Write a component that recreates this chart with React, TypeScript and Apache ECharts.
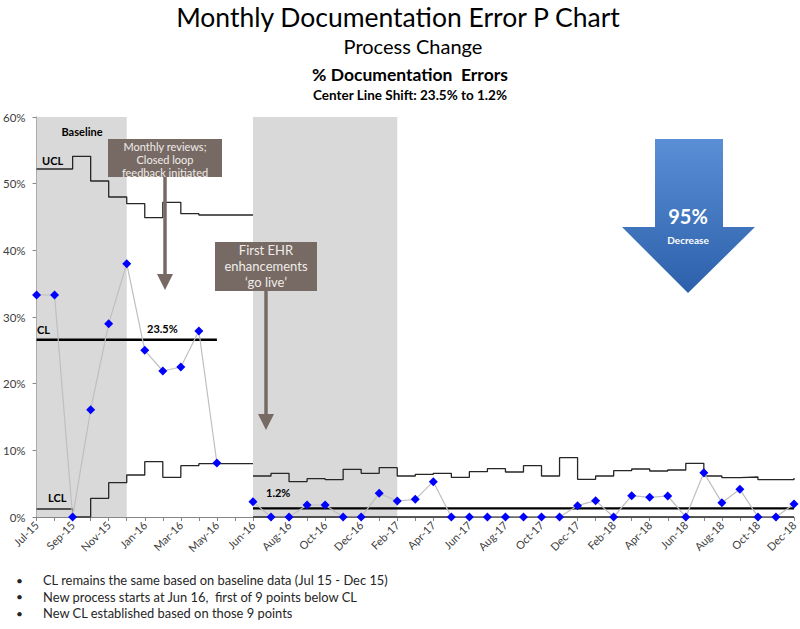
import React, { useEffect, useRef } from 'react';
import * as echarts from 'echarts';

const categories = [
  'Jul-15', 'Aug-15', 'Sep-15', 'Oct-15', 'Nov-15', 'Dec-15', 'Jan-16', 'Feb-16', 'Mar-16', 'Apr-16', 'May-16', '',
  'Jun-16', 'Jul-16', 'Aug-16', 'Sep-16', 'Oct-16', 'Nov-16', 'Dec-16',
  'Jan-17', 'Feb-17', 'Mar-17', 'Apr-17', 'May-17', 'Jun-17', 'Jul-17', 'Aug-17', 'Sep-17', 'Oct-17', 'Nov-17', 'Dec-17',
  'Jan-18', 'Feb-18', 'Mar-18', 'Apr-18', 'May-18', 'Jun-18', 'Jul-18', 'Aug-18', 'Sep-18', 'Oct-18', 'Nov-18', 'Dec-18',
];

const pctErrors = [
  33.3, 33.3, 0, 16.1, 29.0, 38.0, 25.0, 21.9, 22.5, 27.9, 8.1, null,
  2.3, 0, 0, 1.8, 1.8, 0, 0,
  3.55, 2.4, 2.65, 5.3, 0, 0, 0, 0, 0, 0, 0, 1.7,
  2.45, 0, 3.2, 2.95, 3.15, 0, 6.65, 2.15, 4.15, 0, 0, 1.95,
];

// Baseline limits (Jul-15 .. May-16, held to the gap)
const ucl1 = [52.2, 52.2, 54.1, 50.4, 48.0, 47.0, 44.9, 47.2, 45.5, 45.3, 45.3, 45.3];
const lcl1 = [1.2, 1.2, 0, 2.8, 5.15, 6.3, 8.3, 5.95, 7.7, 8.0, 8.0, 8.0];
const cl1Value = 26.6;

// New process limits (Jun-16 .. Dec-18)
const ucl2 = [
  6.15, 6.55, 5.3, 5.75, 5.6, 7.15, 6.55,
  7.4, 6.15, 6.4, 6.55, 5.95, 6.8, 7.25, 6.75, 7.7, 6.15, 8.9, 5.65,
  6.15, 6.95, 7.2, 6.9, 7.05, 8.05, 6.15, 5.9, 6.0, 5.6, 5.6, 5.85,
];
const lcl2Value = 0;
const cl2Value = 1.3;

const bullets = [
  'CL remains the same based on baseline data (Jul 15 - Dec 15)',
  'New process starts at Jun 16,  first of 9 points below CL',
  'New CL established based on those 9 points',
];

const FONT = 'Lato, "Open Sans", sans-serif';

export default function App() {
  const ref = useRef<HTMLDivElement>(null);

  useEffect(() => {
    if (!ref.current) return;
    const chart = echarts.init(ref.current, null, { renderer: 'svg' });

    const n = categories.length;
    const phase2Start = 12;
    const pad = (arr: (number | null)[], start: number) => {
      const out: (number | null)[] = new Array(n).fill(null);
      arr.forEach((v, i) => (out[start + i] = v));
      return out;
    };
    const ucl1Data = pad(ucl1, 0);
    const lcl1Data = pad(lcl1, 0);
    const cl1Data = pad(new Array(11).fill(cl1Value), 0);
    const ucl2Data = pad(ucl2, phase2Start);
    const lcl2Data = pad(new Array(ucl2.length).fill(lcl2Value), phase2Start);
    const cl2Data = pad(new Array(ucl2.length).fill(cl2Value), phase2Start);

    const stepStyle = { color: '#262626', width: 1.3 };
    const txt = (text: string, x: number, y: number, font: string, fill = '#000', align = 'left') => ({
      type: 'text',
      x,
      y,
      z: 100,
      style: { text, fill, font, textAlign: align, textVerticalAlign: 'middle' },
    });

    const arrowColor = '#776a64';
    const arrow = (x: number, y0: number, y1: number) => [
      { type: 'line', z: 90, shape: { x1: x, y1: y0, x2: x, y2: y1 - 6 }, style: { stroke: arrowColor, lineWidth: 3.5 } },
      {
        type: 'polygon',
        z: 90,
        shape: { points: [[x - 8, y1 - 16], [x - 1.5, y1 - 16], [x, y1 - 14], [x + 1.5, y1 - 16], [x + 8, y1 - 16], [x, y1]] },
        style: { fill: arrowColor },
      },
    ];

    const option: any = {
      animation: false,
      textStyle: { fontFamily: FONT },
      grid: { left: 35, right: 5, top: 117, bottom: 112, containLabel: false },
      xAxis: {
        type: 'category',
        data: categories,
        boundaryGap: false,
        axisLine: { lineStyle: { color: '#868686', width: 1 } },
        axisTick: { show: true, interval: 0, length: 4, lineStyle: { color: '#868686' } },
        axisLabel: { interval: 1, rotate: 45, fontSize: 11, color: '#404040', fontFamily: FONT, margin: 6 },
        splitLine: { show: false },
      },
      yAxis: {
        type: 'value',
        min: 0,
        max: 60,
        interval: 10,
        axisLine: { show: true, lineStyle: { color: '#868686' } },
        axisTick: { show: true, length: 4, lineStyle: { color: '#868686' } },
        axisLabel: { formatter: '{value}%', fontSize: 11.5, color: '#404040', fontFamily: FONT, margin: 11 },
        splitLine: { show: false },
      },
      series: [
        {
          name: 'shade',
          type: 'line',
          data: new Array(n).fill(null),
          z: 1,
          silent: true,
          showSymbol: false,
          markArea: {
            silent: true,
            itemStyle: { color: '#d9d9d9' },
            data: [
              [{ xAxis: 'Jul-15' }, { xAxis: 'Dec-15' }],
              [{ xAxis: 'Jun-16' }, { xAxis: 'Feb-17' }],
            ],
          },
        },
        { name: 'UCL', type: 'line', step: 'end', data: ucl1Data, showSymbol: false, lineStyle: stepStyle, z: 3 },
        { name: 'LCL', type: 'line', step: 'end', data: lcl1Data, showSymbol: false, lineStyle: stepStyle, z: 3 },
        { name: 'UCL2', type: 'line', step: 'end', data: ucl2Data, showSymbol: false, lineStyle: stepStyle, z: 3 },
        { name: 'LCL2', type: 'line', data: lcl2Data, showSymbol: false, lineStyle: { color: '#262626', width: 1.3 }, z: 3 },
        { name: 'CL', type: 'line', data: cl1Data, showSymbol: false, lineStyle: { color: '#000', width: 2.5 }, z: 4 },
        { name: 'CL2', type: 'line', data: cl2Data, showSymbol: false, lineStyle: { color: '#000', width: 2.2 }, z: 4 },
        {
          name: '% Documentation Errors',
          type: 'line',
          data: pctErrors,
          connectNulls: false,
          symbol: 'diamond',
          symbolSize: 9,
          showAllSymbol: true,
          lineStyle: { color: '#bfbfbf', width: 1.2 },
          itemStyle: { color: '#0000ff' },
          z: 5,
        },
      ],
      graphic: [
        txt('Monthly Documentation Error P Chart', 398, 17, `26.5px ${FONT}`, '#000', 'center'),
        txt('Process Change', 413, 46, `20px ${FONT}`, '#000', 'center'),
        txt('% Documentation  Errors', 410, 74, `bold 17.5px ${FONT}`, '#000', 'center'),
        txt('Center Line Shift: 23.5% to 1.2%', 410, 95, `bold 13.5px ${FONT}`, '#000', 'center'),
        txt('Baseline', 82, 131, `bold 11px ${FONT}`, '#000', 'center'),
        txt('UCL', 42, 160, `bold 11px ${FONT}`),
        txt('CL', 37, 329, `bold 11px ${FONT}`),
        txt('23.5%', 147, 328, `bold 11px ${FONT}`),
        txt('LCL', 48, 497, `bold 11px ${FONT}`),
        txt('1.2%', 266, 492, `bold 11px ${FONT}`),
        // annotation 1
        { type: 'rect', z: 95, shape: { x: 108, y: 139, width: 114, height: 38 }, style: { fill: arrowColor } },
        txt('Monthly reviews;', 165, 146, `11px ${FONT}`, '#f0ece9', 'center'),
        txt('Closed loop', 165, 159, `11px ${FONT}`, '#f0ece9', 'center'),
        txt('feedback initiated', 165, 172, `11px ${FONT}`, '#f0ece9', 'center'),
        ...arrow(165, 177, 290),
        // annotation 2
        { type: 'rect', z: 95, shape: { x: 215, y: 242, width: 102, height: 49 }, style: { fill: arrowColor } },
        txt('First EHR', 266, 250, `13px ${FONT}`, '#f0ece9', 'center'),
        txt('enhancements', 266, 266, `13px ${FONT}`, '#f0ece9', 'center'),
        txt('\u2018go live\u2019', 266, 282, `13px ${FONT}`, '#f0ece9', 'center'),
        ...arrow(266, 291, 430),
        // big blue arrow
        {
          type: 'polygon',
          z: 80,
          shape: { points: [[655, 139], [723, 139], [723, 227], [755, 227], [688, 293], [622, 227], [655, 227]] },
          style: {
            fill: new echarts.graphic.LinearGradient(0, 0, 0, 1, [
              { offset: 0, color: '#5a8fd6' },
              { offset: 1, color: '#2c60aa' },
            ]),
          },
        },
        txt('95%', 688, 216, `bold 20px ${FONT}`, '#ffffff', 'center'),
        txt('Decrease', 688, 240, `bold 10px ${FONT}`, '#ffffff', 'center'),
        // bullets
        ...bullets.flatMap((b, i) => [
          txt('\u2022', 16, 580 + i * 16.5, `12px ${FONT}`, '#262626'),
          txt(b, 43, 580 + i * 16.5, `12.9px ${FONT}`, '#262626'),
        ]),
      ],
    };

    chart.setOption(option);
    return () => chart.dispose();
  }, []);

  return <div ref={ref} style={{ position: 'absolute', left: 0, top: 0, width: 800, height: 629, background: '#fff' }} />;
}
